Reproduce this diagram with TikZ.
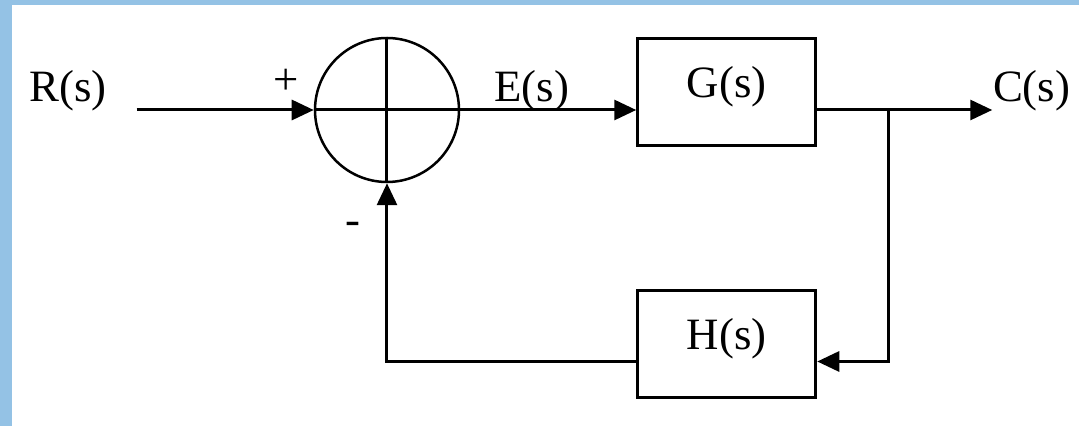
\documentclass[tikz,border=0pt]{standalone}
\usepackage{fontspec}
\setmainfont{Liberation Serif}
\usepackage{tikz}
\usetikzlibrary{arrows.meta, positioning, calc}
\definecolor{frameblue}{RGB}{148,194,229}
\tikzstyle{sumnode} = [circle, draw=black, line width=0.05cm, minimum size=2.88cm, inner sep=0pt]
\tikzstyle{block} = [rectangle, draw=black, line width=0.06cm, minimum width=3.56cm, inner sep=0pt, text height=1.17cm, text depth=0.97cm, text centered, font=\fontsize{25.5}{30}\selectfont]
\tikzstyle{lbl} = [inner sep=0pt, font=\fontsize{25.5}{30}\selectfont]
\tikzstyle{arrow} = [line width=0.06cm, -{Triangle[length=0.44cm, width=0.4cm]}]
\tikzstyle{wire} = [line width=0.06cm]

\begin{document}
\begin{tikzpicture}
            % frame
            \useasboundingbox (-7.74,-6.32) rectangle (13.84,2.2);
            \fill[white] (-7.74,-6.32) rectangle (13.84,2.2);
            \fill[frameblue] (-7.74,-6.32) rectangle (-7.50,2.2);
            \fill[frameblue] (-7.74,2.1) rectangle (13.84,2.2);

            % Summing junction
            \node (sum) [sumnode] at (0,0) {};
            \draw [wire] (sum.north) -- (sum.south);
            \draw [wire] (sum.west) -- (sum.east);

            % Blocks
            \node (G) [block, right=3.52cm of sum, yshift=0.35cm] {G(s)};
            \node (H) [block, below=2.84cm of G] {H(s)};

            % Points on the wires
            \coordinate [left=3.54cm of sum.west] (rin);
            \coordinate (gout) at (sum.east -| G.east);
            \coordinate [right=1.42cm of gout] (branch);
            \coordinate [right=3.5cm of gout] (out);
            \coordinate [below=0.34cm of H.east] (hin);
            \coordinate (hout) at (H.west |- hin);

            % Labels
            \node (rlabel) [lbl, left=0.6cm of rin, anchor=base east, yshift=0.16cm] {R(s)};
            \node (elabel) [lbl, right=0.68cm of sum.east, anchor=base west, yshift=0.16cm] {E(s)};
            \node (clabel) [lbl, right=0.01cm of out, anchor=base west, yshift=0.16cm] {C(s)};
            \node (plus) [lbl, above left=0.56cm and 0.56cm of sum.west, anchor=center] {+};
            \node (minus) [lbl, below left=0.9cm and 0.68cm of sum.south, anchor=center] {-};

            % Arrows
            \draw [arrow] (rin) -- (sum.west);
            \draw [arrow] (sum.east) -- (sum.east -| G.west);
            \draw [arrow] (gout) -- (out);
            \draw [arrow] (branch) |- (hin);
            \draw [arrow] (hout) -| (sum.south);
        \end{tikzpicture}
\end{document}
